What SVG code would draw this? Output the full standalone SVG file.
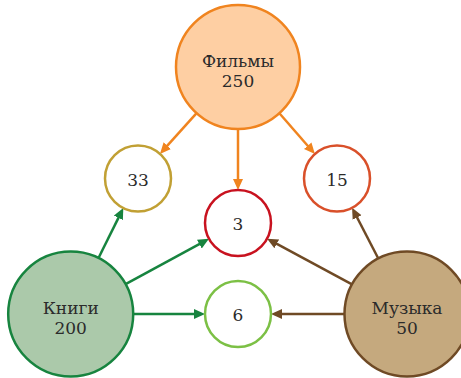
<svg xmlns="http://www.w3.org/2000/svg" width="461" height="378" viewBox="0 0 461 378">
<style>
text{font-family:"DejaVu Serif","Liberation Serif",serif;font-size:17px;fill:#2b2b2b;text-anchor:middle}
.n{stroke-width:2.5}
.c line{stroke-width:2.5;fill:none}
.o{stroke:#f0841f}
.g{stroke:#17843f}
.b{stroke:#6f4a25}
</style>
<defs>
<marker id="ao" markerUnits="userSpaceOnUse" markerWidth="12" markerHeight="11" refX="2" refY="5.5" orient="auto"><path d="M0,0.5 L11,5.5 L0,10.5 z" fill="#f0841f"/></marker>
<marker id="ag" markerUnits="userSpaceOnUse" markerWidth="12" markerHeight="11" refX="2" refY="5.5" orient="auto"><path d="M0,0.5 L11,5.5 L0,10.5 z" fill="#17843f"/></marker>
<marker id="ab" markerUnits="userSpaceOnUse" markerWidth="12" markerHeight="11" refX="2" refY="5.5" orient="auto"><path d="M0,0.5 L11,5.5 L0,10.5 z" fill="#6f4a25"/></marker>
</defs>
<g class="c" id="connectors">
<line class="o" x1="196.6" y1="113.2" x2="166" y2="147.2" marker-end="url(#ao)"/>
<line class="o" x1="238" y1="129" x2="238" y2="181" marker-end="url(#ao)"/>
<line class="o" x1="279.4" y1="113.2" x2="309" y2="147.2" marker-end="url(#ao)"/>
<line class="g" x1="98.5" y1="258" x2="119.3" y2="216.1" marker-end="url(#ag)"/>
<line class="g" x1="125.6" y1="284.1" x2="201.1" y2="243.1" marker-end="url(#ag)"/>
<line class="g" x1="133.2" y1="314" x2="196" y2="314" marker-end="url(#ag)"/>
<line class="b" x1="378.3" y1="258.5" x2="356.2" y2="215.8" marker-end="url(#ab)"/>
<line class="b" x1="352" y1="284.4" x2="275" y2="242.9" marker-end="url(#ab)"/>
<line class="b" x1="344.5" y1="314" x2="280" y2="314" marker-end="url(#ab)"/>
</g>
<g id="films"><circle class="n" cx="238" cy="67" r="62" fill="#fecfa3" stroke="#f0841f"/><text x="238" y="67">Фильмы</text><text x="238" y="87">250</text></g>
<g id="n33"><circle class="n" cx="138" cy="178.5" r="33" fill="#fff" stroke="#c1a034"/><text x="138" y="185.5">33</text></g>
<g id="n3"><circle class="n" cx="238" cy="223" r="33" fill="#fff" stroke="#c8121f"/><text x="238" y="230">3</text></g>
<g id="n15"><circle class="n" cx="337" cy="178.5" r="33" fill="#fff" stroke="#d9502a"/><text x="337" y="185.5">15</text></g>
<g id="n6"><circle class="n" cx="238" cy="314" r="33" fill="#fff" stroke="#7cc045"/><text x="238" y="321">6</text></g>
<g id="books"><circle class="n" cx="70.7" cy="314" r="62.5" fill="#abc9aa" stroke="#17843f"/><text x="70.7" y="314">Книги</text><text x="70.7" y="334">200</text></g>
<g id="music"><circle class="n" cx="407" cy="314" r="62.5" fill="#c5a97e" stroke="#6f4a25"/><text x="407" y="314">Музыка</text><text x="407" y="334">50</text></g>
</svg>
